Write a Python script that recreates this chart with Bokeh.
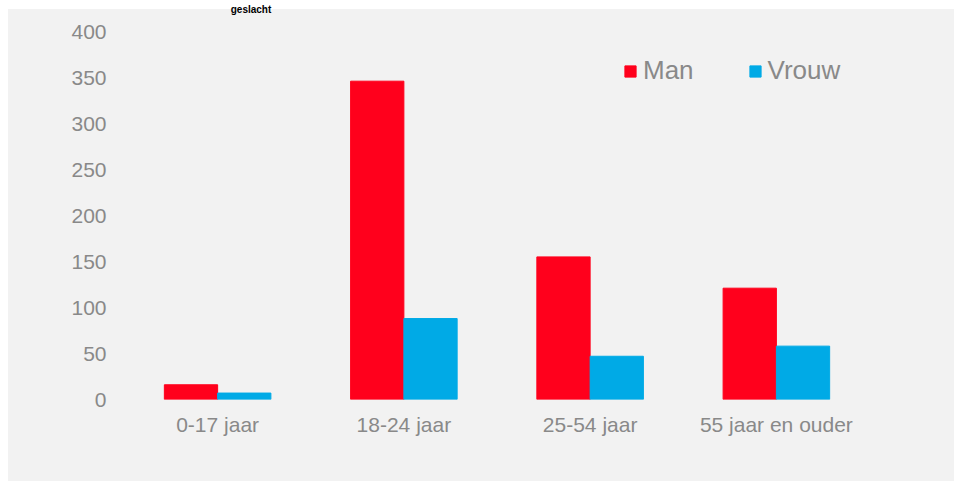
from bokeh.plotting import figure
from bokeh.models import ColumnDataSource, FactorRange, Legend, LegendItem, Label
from bokeh.transform import dodge
from bokeh.embed import file_html
from bokeh.resources import INLINE

categories = ["0-17 jaar", "18-24 jaar", "25-54 jaar", "55 jaar en ouder"]
man = [16, 346, 155, 121]
vrouw = [7, 88, 47, 58]
y_ticks = [0, 50, 100, 150, 200, 250, 300, 350, 400]
title_tail = "geslacht"

src = ColumnDataSource(dict(cat=categories, man=man, vrouw=vrouw))

W, H = 954, 482
TOP_GAP = 31          # px between the canvas top and the "400" tick
PLOT_PX = 368         # px from 0 to 400
y_end = 400 + TOP_GAP * 400 / PLOT_PX

p = figure(x_range=FactorRange(*categories), y_range=(0, y_end),
           width=W, height=H, output_backend="svg", toolbar_location=None,
           min_border_left=124, min_border_right=85,
           min_border_top=0, min_border_bottom=83)
p.x_range.range_padding = 0
# grey chart area starts 8px from the left and 9px from the top (white outside)
p.border_fill_alpha = 0
p.background_fill_alpha = 0
p.styles = {"background": ("linear-gradient(to right, #FFFFFF 8px, rgba(255,255,255,0) 8px), "
                           "linear-gradient(to bottom, #FFFFFF 9px, #F2F2F2 9px, "
                           "#F2F2F2 481px, #FFFFFF 481px)")}
p.outline_line_color = None
p.xgrid.grid_line_color = None
p.ygrid.grid_line_color = None

# remaining visible part of the chart title, above the grey area
title = Label(x=126.5, y=390.5, x_units="screen", y_units="screen", text=title_tail,
              text_font="Liberation Sans", text_font_style="bold", text_font_size="10px",
              text_color="#000000", text_align="center", text_baseline="alphabetic")
p.add_layout(title)

RED = "#FF001C"
BLUE = "#00AAE6"
w = 0.286
r1 = p.vbar(x=dodge("cat", -0.143, range=p.x_range), top="man", width=w, source=src,
            fill_color=RED, line_color=RED)
r2 = p.vbar(x=dodge("cat", 0.143, range=p.x_range), top="vrouw", width=w, source=src,
            fill_color=BLUE, line_color=BLUE)

GREY = "#898989"
FONT = "Liberation Sans"
for ax in (p.xaxis[0], p.yaxis[0]):
    ax.axis_line_color = None
    ax.major_tick_line_color = None
    ax.minor_tick_line_color = None
    ax.major_tick_out = 0
    ax.major_tick_in = 0
    ax.major_label_text_color = GREY
    ax.major_label_text_font = FONT
    ax.major_label_text_font_size = "21px"
p.yaxis.ticker = y_ticks
p.yaxis.major_label_standoff = 18
p.xaxis.major_label_standoff = 13

legend = Legend(items=[LegendItem(label="Man", renderers=[r1]),
                       LegendItem(label="Vrouw", renderers=[r2])],
                orientation="horizontal", location=(499, 313),
                glyph_width=14, glyph_height=14, label_standoff=6, spacing=54,
                padding=0, margin=0, border_line_alpha=0, background_fill_alpha=0,
                label_text_font=FONT, label_text_font_size="26px",
                label_text_color=GREY)
p.add_layout(legend, "center")

open("out.html", "w").write(file_html(p, INLINE))
